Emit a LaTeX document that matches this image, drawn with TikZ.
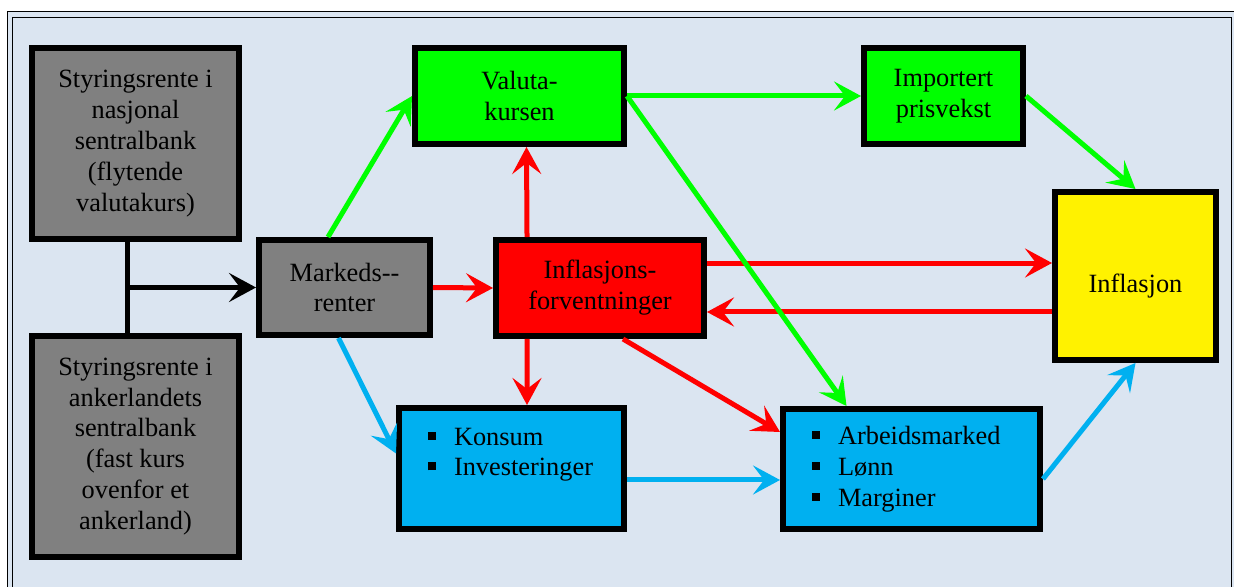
\documentclass[tikz,border=0pt]{standalone}
\usepackage{fontspec}
\setmainfont{Liberation Serif}
\usetikzlibrary{arrows.meta}

\definecolor{bakgrunn}{RGB}{219,229,241}
\definecolor{gronn}{RGB}{0,255,0}
\definecolor{blaa}{RGB}{0,176,240}
\definecolor{graa}{RGB}{128,128,128}

\newcommand{\kvad}{\makebox[0.52cm][l]{\rule[0.11cm]{0.16cm}{0.16cm}}}

\tikzset{
  boks/.style={draw=black, line width=0.12cm, align=center,
    font=\fontsize{15}{17.6}\selectfont},
  pil/.style={line width=0.1cm,
    -{Stealth[length=0.54cm,width=0.58cm,inset=0.22cm]}},
}

\begin{document}
\begin{tikzpicture}[x=0.02cm,y=-0.02cm]

    \useasboundingbox (0,0) rectangle (1234,587);

    % ramme
    \fill[bakgrunn] (7.5,11.5) rectangle (1236,600);
    \draw[line width=0.03cm] (7.5,11.5) rectangle (1236,600);
    \draw[line width=0.03cm] (12.5,17.5) rectangle (1231.5,595);

    % bokser
    \node[boks, fill=graa, minimum width=4.14cm, minimum height=3.82cm]
      (nasj) at (135.5,143.5)
      {Styringsrente i\\nasjonal\\sentralbank\\(flytende\\valutakurs)};
    \node[boks, fill=graa, minimum width=4.14cm, minimum height=4.42cm]
      (anker) at (135.5,446.5)
      {Styringsrente i\\ankerlandets\\sentralbank\\(fast kurs\\ovenfor et\\ankerland)};
    \node[boks, fill=graa, minimum width=3.42cm, minimum height=1.9cm]
      (marked) at (344.5,287.5) {Markeds-{}-\\renter};
    \node[boks, fill=gronn, minimum width=4.18cm, minimum height=1.92cm]
      (valuta) at (519.5,96) {Valuta-\\kursen};
    \node[boks, fill=gronn, minimum width=3.18cm, minimum height=1.92cm]
      (import) at (943.5,96) {Importert\\prisvekst};
    \node[boks, fill=red, minimum width=4.16cm, minimum height=1.92cm]
      (forv) at (600,288) {Inflasjons-\\forventninger};
    \node[boks, fill=yellow, minimum width=3.22cm, minimum height=3.36cm]
      (infl) at (1135.5,276) {\raisebox{-0.2cm}[\height][\depth]{Inflasjon}};
    \node[boks, fill=blaa, align=left, inner xsep=0.58cm, text width=3.34cm,
      minimum height=2.42cm]
      (konsum) at (511.5,468.5) {\kvad Konsum\\\kvad Investeringer\\[-0.14cm]\strut};
    \node[boks, fill=blaa, align=left, inner xsep=0.58cm, text width=3.98cm,
      minimum height=2.4cm]
      (arbeid) at (911.5,469) {\kvad Arbeidsmarked\\\kvad Lønn\\\kvad Marginer};

    % styringsrentene
    \coordinate (junc) at ([xshift=-0.16cm]nasj.south |- marked.west);
    \draw[line width=0.11cm] ([xshift=-0.16cm]nasj.south)
      -- ([xshift=-0.16cm]anker.north);
    \draw[pil] (junc) -- (marked.west);

    % piler
    \draw[pil, gronn] ([xshift=-0.33cm]marked.north) -- (valuta.west);
    \draw[pil, red] (marked.east) -- (forv.west);
    \draw[pil, blaa] ([xshift=-0.12cm]marked.south) -- ([yshift=0.3cm]konsum.west);

    \draw[pil, red] ([xshift=-1.46cm]forv.north) -- ([xshift=0.14cm]valuta.south);
    \draw[pil, red] ([xshift=-1.46cm]forv.south) -- ([xshift=0.31cm]konsum.north);
    \draw[pil, red] ([xshift=0.46cm]forv.south) -- ([yshift=0.74cm]arbeid.west);
    \draw[pil, red] ([yshift=0.5cm]forv.east) -- ([yshift=0.5cm]forv.east -| infl.west);
    \draw[pil, red] ([yshift=-0.48cm]forv.east -| infl.west) -- ([yshift=-0.48cm]forv.east);

    \draw[pil, gronn] (valuta.east) -- (import.west);
    \draw[pil, gronn] (valuta.east) -- ([xshift=-1.3cm]arbeid.north);
    \draw[pil, gronn] (import.east) -- (infl.north);

    \draw[pil, blaa] ([yshift=-0.23cm]konsum.east) -- ([yshift=-0.23cm]konsum.east -| arbeid.west);
    \draw[pil, blaa] ([yshift=-0.2cm]arbeid.east) -- (infl.south);

\end{tikzpicture}
\end{document}
